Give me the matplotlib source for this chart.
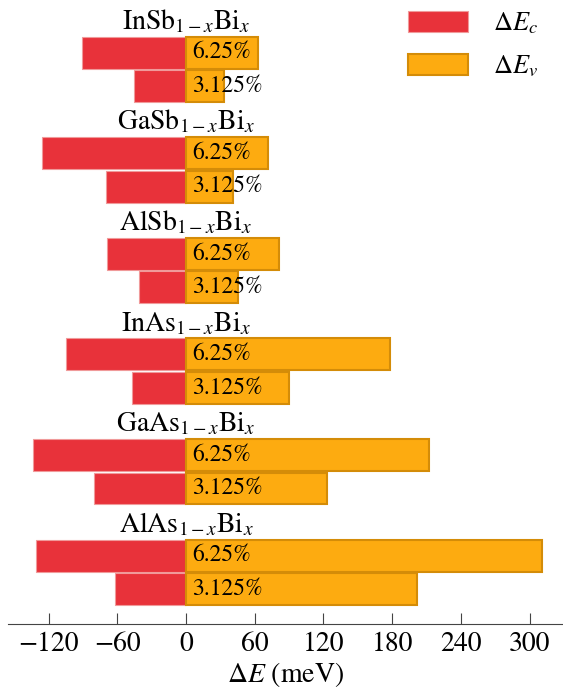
import matplotlib
matplotlib.use("Agg")
import matplotlib.pyplot as plt
from matplotlib.patches import Patch

plt.rcParams['font.family'] = 'STIXGeneral'
plt.rcParams['mathtext.fontset'] = 'stix'

# ---- data (meV) ----
hosts = ["In", "Ga", "Al", "In", "Ga", "Al"]
anions = ["Sb", "Sb", "Sb", "As", "As", "As"]
concentrations = ["6.25%", "3.125%"]

dEc_625 = [-90.5, -126, -69.3, -104.8, -133.3, -131]
dEc_3125 = [-45.4, -69.8, -41, -47.1, -80.3, -62.3]
dEv_625 = [62.9, 71.9, 81.5, 177.8, 211.9, 310.5]
dEv_3125 = [32.9, 41.3, 45.4, 89.6, 123.4, 202]

xticks = [-120, -60, 0, 60, 120, 180, 240, 300]

RED = "#e8323a"
RED_EDGE = "#f09a9a"
ORANGE = "#fdab10"
ORANGE_EDGE = "#d48c08"

fig = plt.figure(figsize=(5.63, 6.94), dpi=100)
ax = fig.add_axes([8/563, 70/694, 555/563, 624/694])

for g, (host, anion) in enumerate(zip(hosts, anions)):
    s0 = 3 * g
    ax.text(0, s0 + 0.3, f"{host}{anion}$_{{1-x}}$Bi$_x$",
            ha="center", va="baseline", fontsize=20)
    rows = [(dEc_625[g], dEv_625[g], concentrations[0]),
            (dEc_3125[g], dEv_3125[g], concentrations[1])]
    for k, (ec, ev, conc) in enumerate(rows):
        y = s0 + 1 + k
        ax.barh(y, ec, height=0.95, color=RED, edgecolor=RED_EDGE, linewidth=0.8)
        ax.barh(y, ev, height=0.95, color=ORANGE, edgecolor=ORANGE_EDGE, linewidth=1.5)
        ax.text(5.5, y, conc, ha="left", va="center", fontsize=17)

ax.set_xlim(-155.4, 329.1)
ax.set_ylim(18.04, -0.57)
ax.set_xticks(xticks)
ax.set_yticks([])
for side in ["left", "right", "top"]:
    ax.spines[side].set_visible(False)
ax.spines["bottom"].set_color("#444444")
ax.tick_params(axis="x", direction="in", length=8, width=0.8, colors="#444444",
               labelcolor="black", labelsize=20, pad=6)
ax.set_xlabel(r"$\Delta E$ (meV)", fontsize=20, labelpad=2)

handles = [Patch(facecolor=RED, edgecolor=RED_EDGE, linewidth=0.8),
           Patch(facecolor=ORANGE, edgecolor=ORANGE_EDGE, linewidth=1.5)]
fig.legend(handles, [r"$\Delta E_c$", r"$\Delta E_v$"], loc="upper left",
           bbox_to_anchor=(395/563, 1.0 + 2/694), frameon=False, fontsize=19,
           handlelength=2.27, handleheight=0.83, handletextpad=0.95, labelspacing=0.65,
           borderpad=0.0)

fig.savefig("out.png", dpi=100)
